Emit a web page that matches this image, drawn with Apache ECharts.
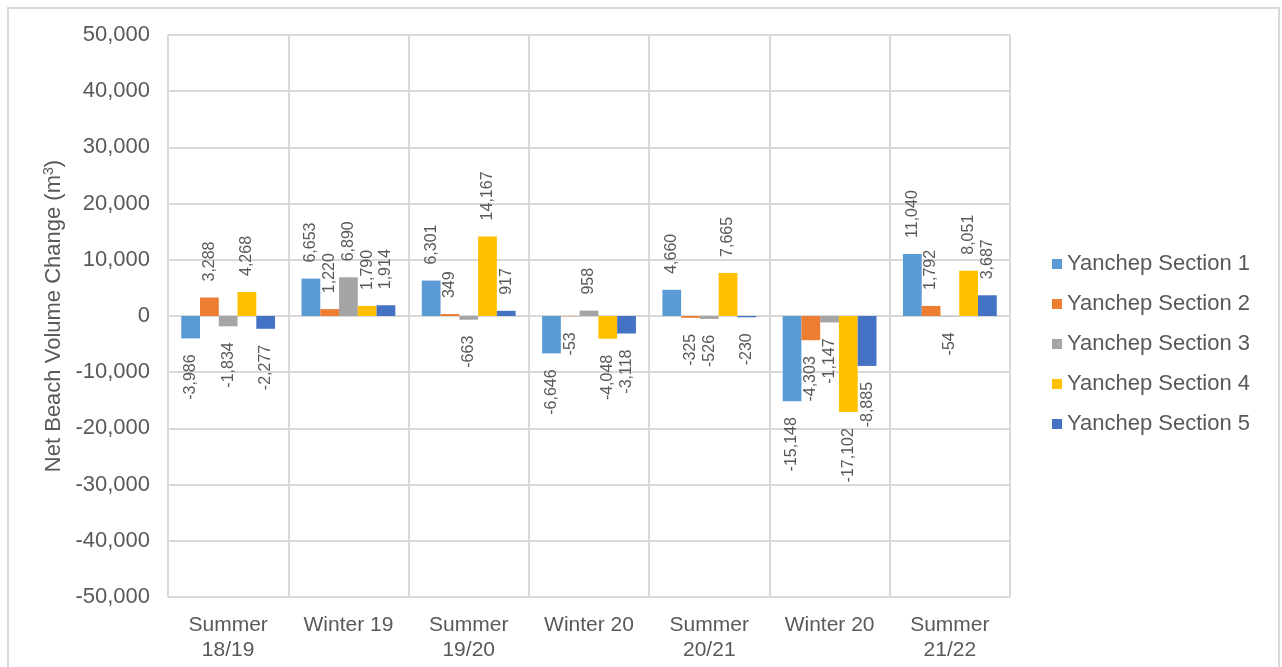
<!DOCTYPE html>
<html>
<head>
<meta charset="utf-8">
<script src="https://cdn.jsdelivr.net/npm/echarts@6/dist/echarts.min.js"></script>
<style>
  html, body { margin: 0; padding: 0; background: #fff; }
  #chart { width: 1282px; height: 667px; }
</style>
</head>
<body>
<div id="chart"></div>
<script>
// Survey periods along the x axis
const categories = ['Summer\n18/19', 'Winter 19', 'Summer\n19/20', 'Winter 20', 'Summer\n20/21', 'Winter 20', 'Summer\n21/22'];

// Net beach volume change per section (m³)
const section1 = [-3986, 6653, 6301, -6646, 4660, -15148, 11040];
const section2 = [3288, 1220, 349, -53, -325, -4303, 1792];
const section3 = [-1834, 6890, -663, 958, -526, -1147, -54];
const section4 = [4268, 1790, 14167, -4048, 7665, -17102, 8051];
const section5 = [-2277, 1914, 917, -3118, -230, -8885, 3687];

const seriesNames = ['Yanchep Section 1', 'Yanchep Section 2', 'Yanchep Section 3', 'Yanchep Section 4', 'Yanchep Section 5'];
const seriesColors = ['#5B9BD5', '#ED7D31', '#A5A5A5', '#FFC000', '#4472C4'];
const seriesValues = [section1, section2, section3, section4, section5];

// Value axis range
const yMin = -50000;
const yMax = 50000;
const yStep = 10000;

const FONT = '"Liberation Sans", Arial, sans-serif';
const TEXT = '#595959';
const GRID = '#D9D9D9';

const fmt = v => Number(v).toLocaleString('en-US');

// Rotated value labels sit above positive bars and below negative ones
function toItems(values) {
  return values.map(v => ({
    value: v,
    label: v >= 0
      ? { position: 'top', align: 'left' }
      : { position: 'bottom', align: 'right' }
  }));
}

const series = seriesValues.map((vals, i) => ({
  name: seriesNames[i],
  type: 'bar',
  data: toItems(vals),
  barGap: '0%',
  barCategoryGap: '22%',
  itemStyle: { color: seriesColors[i] },
  label: {
    show: true,
    rotate: 90,
    verticalAlign: 'middle',
    distance: 16,
    color: TEXT,
    fontFamily: FONT,
    fontSize: 16,
    formatter: p => fmt(p.value)
  }
}));

const chart = echarts.init(document.getElementById('chart'), null, { renderer: 'canvas' });

chart.setOption({
  animation: false,
  backgroundColor: '#fff',
  graphic: [{
    type: 'rect',
    shape: { x: 8, y: 8, width: 1271, height: 680 },
    style: { fill: 'none', stroke: GRID, lineWidth: 2 },
    silent: true
  }],
  grid: { left: 168, right: 272, top: 35, bottom: 70, containLabel: false },
  legend: {
    orient: 'vertical',
    left: 1047,
    top: 248,
    itemWidth: 10,
    itemHeight: 10,
    itemGap: 18,
    icon: 'rect',
    data: seriesNames,
    textStyle: { color: TEXT, fontFamily: FONT, fontSize: 22 }
  },
  xAxis: {
    type: 'category',
    data: categories,
    axisTick: { show: false },
    axisLine: { show: true, onZero: true, lineStyle: { color: GRID, width: 2 } },
    splitLine: { show: true, interval: 0, lineStyle: { color: GRID, width: 2 } },
    axisLabel: {
      interval: 0,
      margin: 16,
      color: TEXT,
      fontFamily: FONT,
      fontSize: 21,
      lineHeight: 25
    }
  },
  yAxis: {
    type: 'value',
    min: yMin,
    max: yMax,
    interval: yStep,
    name: 'Net Beach Volume Change (m{sup|3})',
    nameLocation: 'middle',
    nameGap: 102,
    nameTextStyle: {
      color: TEXT,
      fontFamily: FONT,
      fontSize: 22,
      rich: {
        sup: { color: TEXT, fontFamily: FONT, fontSize: 14, verticalAlign: 'top', padding: [0, 0, 9, 0] }
      }
    },
    axisLine: { show: false },
    axisTick: { show: false },
    splitLine: { show: true, lineStyle: { color: GRID, width: 2 } },
    axisLabel: {
      margin: 18,
      color: TEXT,
      fontFamily: FONT,
      fontSize: 22,
      formatter: v => fmt(v)
    }
  },
  series: series
});
</script>
</body>
</html>
